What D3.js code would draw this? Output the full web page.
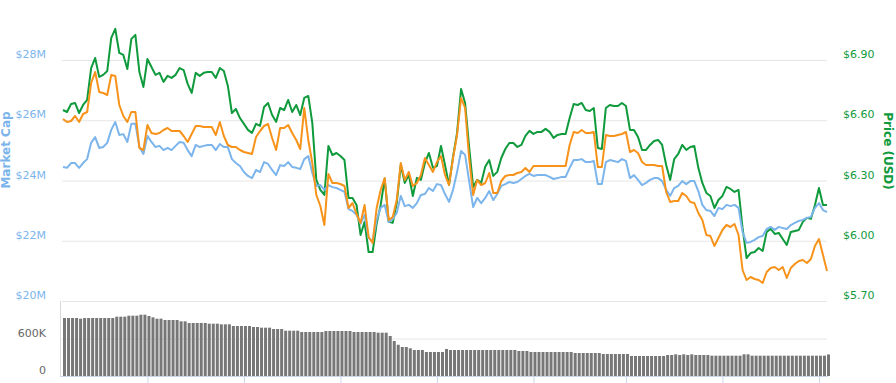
<!DOCTYPE html>
<html>
<head>
<meta charset="utf-8">
<script src="https://cdn.jsdelivr.net/npm/d3@7"></script>
<style>
  body { margin: 0; background: #fff; }
  svg { display: block; font-family: "DejaVu Sans", Verdana, sans-serif; }
</style>
</head>
<body>
<svg id="chart" width="896" height="383"></svg>
<script>
// one value per day; market cap in $M, price in USD, price in mBTC, 24h volume in $K
const marketCap = [
  24.45, 24.42, 24.58, 24.58, 24.42, 24.58, 24.71, 25.25, 25.44, 25.08,
  25.11, 25.25, 25.68, 25.94, 25.51, 25.54, 25.28, 25.88, 25.88, 25.11,
  24.88, 25.48, 25.28, 25.11, 25.15, 25.01, 25.08, 25.01, 25.15, 25.28,
  25.25, 25.01, 24.81, 25.18, 25.11, 25.15, 25.18, 25.18, 25.01, 25.21,
  25.11, 25.11, 24.71, 24.58, 24.48, 24.28, 24.15, 24.08, 24.35, 24.28,
  24.61, 24.55, 24.35, 24.18, 24.51, 24.48, 24.61, 24.45, 24.42, 24.38,
  24.71, 24.81, 24.25, 23.82, 23.85, 23.69, 23.85, 23.78, 23.75, 23.69,
  23.62, 23.05, 22.99, 22.86, 22.56, 22.86, 22.09, 21.99, 22.69, 23.09,
  23.19, 22.62, 22.72, 22.92, 23.49, 23.15, 23.19, 23.09, 23.25, 23.52,
  23.55, 23.75, 23.65, 23.88, 23.85, 23.55, 23.29, 23.69, 24.28, 24.98,
  24.85, 23.98, 23.12, 23.42, 23.25, 23.42, 23.65, 23.35, 23.55, 23.82,
  23.88, 23.95, 23.92, 23.95, 24.05, 24.15, 24.22, 24.15, 24.18, 24.18,
  24.18, 24.12, 24.05, 24.08, 24.12, 24.12, 24.42, 24.68, 24.68, 24.71,
  24.61, 24.61, 24.65, 23.88, 23.88, 24.61, 24.68, 24.65, 24.61, 24.71,
  24.65, 24.08, 24.18, 24.02, 23.85, 23.92, 24.02, 24.08, 24.08, 23.98,
  23.69, 23.49, 23.75, 23.82, 23.98, 23.88, 23.98, 23.98, 23.65, 23.19,
  23.02, 22.99, 22.82, 23.09, 23.05, 23.19, 23.15, 23.19, 23.09, 22.29,
  21.93, 21.96, 22.03, 22.12, 22.16, 22.39, 22.46, 22.36, 22.46, 22.42,
  22.39, 22.52, 22.59, 22.66, 22.69, 22.76, 22.79, 23.09, 23.25, 23.02,
  22.95
];
const priceUsd = [
  6.651, 6.641, 6.681, 6.686, 6.636, 6.676, 6.701, 6.860, 6.910, 6.816,
  6.826, 6.845, 7.010, 7.055, 6.935, 6.925, 6.855, 7.005, 7.025, 6.840,
  6.766, 6.905, 6.865, 6.826, 6.836, 6.791, 6.821, 6.811, 6.826, 6.860,
  6.850, 6.781, 6.736, 6.836, 6.821, 6.836, 6.840, 6.840, 6.811, 6.860,
  6.845, 6.771, 6.636, 6.656, 6.611, 6.582, 6.552, 6.537, 6.582, 6.572,
  6.666, 6.686, 6.626, 6.592, 6.661, 6.651, 6.701, 6.641, 6.676, 6.626,
  6.711, 6.721, 6.587, 6.303, 6.253, 6.228, 6.472, 6.427, 6.437, 6.422,
  6.402, 6.213, 6.213, 6.178, 6.029, 6.094, 5.944, 5.944, 6.084, 6.178,
  6.308, 6.094, 6.089, 6.188, 6.377, 6.288, 6.328, 6.223, 6.313, 6.303,
  6.387, 6.437, 6.363, 6.372, 6.472, 6.377, 6.278, 6.417, 6.537, 6.756,
  6.686, 6.467, 6.268, 6.303, 6.288, 6.368, 6.402, 6.323, 6.343, 6.412,
  6.457, 6.487, 6.487, 6.467, 6.477, 6.522, 6.547, 6.532, 6.542, 6.542,
  6.557, 6.542, 6.512, 6.527, 6.532, 6.532, 6.611, 6.681, 6.676, 6.686,
  6.651, 6.646, 6.661, 6.462, 6.457, 6.661, 6.676, 6.671, 6.671, 6.686,
  6.671, 6.552, 6.552, 6.517, 6.452, 6.452, 6.477, 6.497, 6.502, 6.477,
  6.377, 6.303, 6.407, 6.432, 6.477, 6.452, 6.467, 6.472, 6.363, 6.288,
  6.238, 6.223, 6.163, 6.203, 6.223, 6.268, 6.258, 6.243, 6.253, 6.064,
  5.914, 5.939, 5.944, 5.964, 5.949, 6.044, 6.059, 6.034, 6.039, 6.009,
  5.979, 6.044, 6.049, 6.054, 6.094, 6.114, 6.109, 6.178, 6.263, 6.178,
  6.178
];
const priceBtc = [
  0.982, 0.979, 0.980, 0.985, 0.979, 0.987, 0.989, 1.018, 1.029, 1.009,
  1.008, 1.006, 1.026, 1.025, 0.996, 0.985, 0.979, 0.989, 0.989, 0.953,
  0.951, 0.976, 0.968, 0.967, 0.968, 0.971, 0.973, 0.970, 0.970, 0.970,
  0.965, 0.959, 0.967, 0.975, 0.975, 0.974, 0.974, 0.974, 0.966, 0.979,
  0.965, 0.956, 0.954, 0.954, 0.951, 0.949, 0.948, 0.947, 0.964, 0.970,
  0.975, 0.977, 0.963, 0.951, 0.973, 0.973, 0.976, 0.968, 0.961, 0.952,
  0.993, 0.961, 0.938, 0.906, 0.895, 0.876, 0.927, 0.918, 0.918, 0.917,
  0.915, 0.893, 0.898, 0.887, 0.878, 0.896, 0.864, 0.858, 0.893, 0.911,
  0.923, 0.881, 0.884, 0.901, 0.938, 0.921, 0.929, 0.915, 0.918, 0.926,
  0.943, 0.936, 0.929, 0.939, 0.945, 0.926, 0.916, 0.943, 0.966, 1.003,
  0.993, 0.943, 0.906, 0.921, 0.916, 0.918, 0.928, 0.908, 0.908, 0.920,
  0.925, 0.926, 0.926, 0.928, 0.929, 0.933, 0.929, 0.935, 0.935, 0.935,
  0.935, 0.935, 0.935, 0.935, 0.935, 0.935, 0.956, 0.969, 0.968, 0.971,
  0.968, 0.968, 0.969, 0.934, 0.934, 0.966, 0.965, 0.965, 0.966, 0.967,
  0.969, 0.949, 0.951, 0.948, 0.939, 0.936, 0.936, 0.936, 0.935, 0.935,
  0.909, 0.899, 0.900, 0.900, 0.908, 0.905, 0.899, 0.898, 0.888, 0.881,
  0.866, 0.865, 0.855, 0.863, 0.871, 0.876, 0.874, 0.877, 0.866, 0.831,
  0.821, 0.824, 0.822, 0.821, 0.818, 0.829, 0.833, 0.834, 0.831, 0.834,
  0.823, 0.833, 0.837, 0.840, 0.841, 0.838, 0.842, 0.855, 0.862, 0.846,
  0.830
];
const volumeK = [
  928, 928, 928, 928, 917, 928, 928, 928, 928, 928,
  928, 928, 928, 949, 949, 949, 965, 965, 965, 981,
  981, 960, 939, 917, 917, 896, 896, 896, 896, 875,
  875, 848, 848, 848, 848, 848, 837, 837, 837, 827,
  827, 827, 800, 800, 800, 800, 800, 784, 784, 773,
  773, 773, 752, 752, 752, 725, 725, 725, 725, 704,
  704, 704, 704, 704, 704, 720, 720, 720, 720, 720,
  720, 720, 704, 704, 704, 704, 704, 704, 693, 693,
  693, 640, 560, 500, 464, 464, 443, 416, 416, 416,
  384, 384, 384, 384, 384, 432, 416, 416, 416, 416,
  416, 416, 416, 416, 416, 416, 416, 416, 416, 416,
  416, 416, 416, 400, 400, 400, 384, 384, 384, 384,
  384, 384, 384, 384, 384, 384, 384, 368, 368, 368,
  368, 368, 368, 368, 352, 352, 352, 352, 352, 352,
  352, 320, 320, 320, 320, 320, 320, 320, 320, 320,
  336, 336, 347, 336, 347, 336, 347, 336, 336, 336,
  336, 325, 325, 325, 325, 325, 325, 325, 325, 347,
  347, 325, 325, 325, 325, 325, 325, 325, 325, 325,
  325, 325, 325, 325, 325, 325, 325, 325, 325, 325,
  345
];
const capTicks = [20, 22, 24, 26, 28];
const usdTicks = [5.70, 6.00, 6.30, 6.60, 6.90];
const volTicks = [0, 600];
const dayTicks = [21, 45, 69, 93, 117, 140, 164, 188];

const blue = "#7cb5ec", green = "#0f9a3c", orange = "#f7931a";
const left = 62, right = 827;

const svg = d3.select("#chart");

const x = d3.scaleLinear().domain([0, priceUsd.length - 1]).range([63, 827]);
const yCap = d3.scaleLinear().domain([20, 28]).range([301, 60]);
const yUsd = d3.scaleLinear().domain([5.7, 6.9]).range([301, 60]);
const yBtc = d3.scaleLinear().domain([0.8, 1.041]).range([301, 60]);
const yVol = d3.scaleLinear().domain([0, 1200]).range([376, 301]);

// gridlines
function grid(scale, ticks)
{
    const g = svg.append("g")
        .attr("transform", "translate(" + left + ",0)")
        .call(d3.axisLeft(scale).tickValues(ticks).tickFormat("").tickSize(-(right - left)));
    g.select(".domain").remove();
    g.selectAll("line").attr("stroke", "#e6e6e6");
}
grid(yCap, capTicks);
grid(yVol, [600]);

// volume bars
svg.append("g").selectAll("rect")
    .data(volumeK)
    .enter().append("rect")
        .attr("x", (d, i) => x(i))
        .attr("width", 3)
        .attr("y", d => yVol(d))
        .attr("height", d => yVol(0) - yVol(d))
        .attr("fill", "#777777");

// pane borders
svg.append("line")
    .attr("x1", 60.5).attr("x2", 60.5).attr("y1", 301).attr("y2", 376)
    .attr("stroke", "#d8d8d8");
const xAxis = svg.append("g")
    .attr("transform", "translate(0,376.5)")
    .call(d3.axisBottom(x).tickValues(dayTicks).tickFormat("").tickSize(7));
xAxis.select(".domain").attr("d", "M60,0H828").attr("stroke", "#ccd6eb");
xAxis.selectAll("line").attr("stroke", "#ccd6eb");

// lines
function drawLine(values, scale, color)
{
    svg.append("path")
        .datum(values)
        .attr("fill", "none")
        .attr("stroke", color)
        .attr("stroke-width", 2)
        .attr("stroke-linejoin", "round")
        .attr("d", d3.line().x((d, i) => x(i)).y(d => scale(d)));
}
drawLine(priceUsd, yUsd, green);
drawLine(marketCap, yCap, blue);
drawLine(priceBtc, yBtc, orange);

// axis labels
function labels(axis, color)
{
    const g = svg.append("g").call(axis);
    g.select(".domain").remove();
    g.selectAll("text")
        .attr("y", -6)
        .attr("fill", color)
        .attr("font-size", 11)
        .attr("font-family", "DejaVu Sans, Verdana, sans-serif");
    return g;
}
labels(d3.axisLeft(yCap).tickValues(capTicks).tickFormat(d => "$" + d + "M").tickSize(0).tickPadding(16), blue)
    .attr("transform", "translate(" + left + ",0)");
labels(d3.axisRight(yUsd).tickValues(usdTicks).tickFormat(d3.format("$.2f")).tickSize(0).tickPadding(16), green)
    .attr("transform", "translate(" + right + ",0)");
labels(d3.axisLeft(yVol).tickValues(volTicks).tickFormat(d => d ? d + "K" : "0").tickSize(0).tickPadding(16), "#666666")
    .attr("transform", "translate(" + left + ",0)");

// axis titles
svg.append("text")
    .attr("transform", "translate(10,150) rotate(-90)")
    .attr("text-anchor", "middle")
    .attr("font-size", 12)
    .attr("font-weight", "bold")
    .attr("fill", blue)
    .text("Market Cap");
svg.append("text")
    .attr("transform", "translate(888,151) rotate(90)")
    .attr("text-anchor", "middle")
    .attr("dominant-baseline", "central")
    .attr("font-size", 12)
    .attr("font-weight", "bold")
    .attr("fill", green)
    .text("Price (USD)");
</script>
</body>
</html>
